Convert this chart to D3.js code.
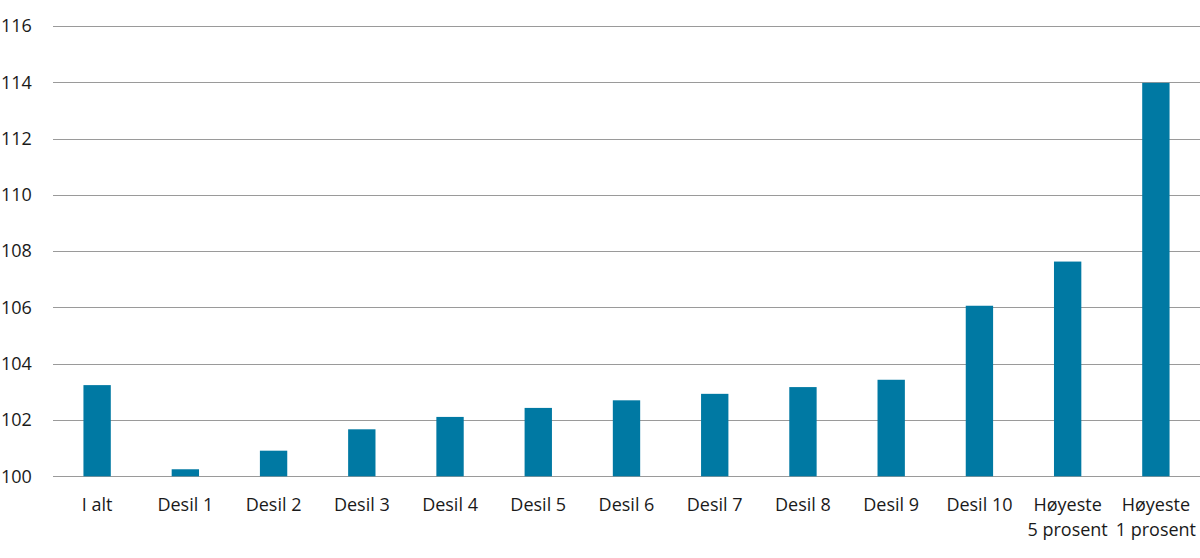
<!DOCTYPE html>
<html>
<head>
<meta charset="utf-8">
<script src="https://cdn.jsdelivr.net/npm/d3@7"></script>
<style>
  html, body { margin: 0; padding: 0; background: #fff; }
  svg text { font-family: "Open Sans", "Noto Sans", sans-serif; fill: #1a1a1a; }
</style>
</head>
<body>
<svg id="chart" width="1200" height="558"></svg>
<script>
const categories = [
  ["I alt"], ["Desil 1"], ["Desil 2"], ["Desil 3"], ["Desil 4"], ["Desil 5"],
  ["Desil 6"], ["Desil 7"], ["Desil 8"], ["Desil 9"], ["Desil 10"],
  ["Høyeste", "5 prosent"], ["Høyeste", "1 prosent"]
];
const values = [103.24, 100.25, 100.91, 101.67, 102.11, 102.43, 102.70, 102.93, 103.17, 103.43, 106.06, 107.63, 113.98];
const yTicks = [100, 102, 104, 106, 108, 110, 112, 114, 116];

(function () {
const svg = d3.select("#chart");
const mLeft = 53, mRight = 1200, mTop = 26, mBottom = 476.3;

const x = d3.scaleBand()
  .domain(categories.map((d, i) => i))
  .range([mLeft, mRight])
  .paddingInner(0.69)
  .paddingOuter(0.345);

const y = d3.scaleLinear().domain([100, 116]).range([mBottom, mTop]);

// gridlines
svg.append("g")
  .selectAll("line")
  .data(yTicks)
  .join("line")
  .attr("x1", mLeft).attr("x2", mRight)
  .attr("y1", d => Math.round(y(d)) + 0.5).attr("y2", d => Math.round(y(d)) + 0.5)
  .attr("stroke", "#9a9a9a").attr("stroke-width", 1.2);

// y labels
svg.append("g")
  .selectAll("text")
  .data(yTicks)
  .join("text")
  .attr("x", 1)
  .attr("y", d => y(d))
  .attr("dy", "0.35em")
  .attr("font-size", 18)
  .text(d => d);

// bars
svg.append("g")
  .selectAll("rect")
  .data(values)
  .join("rect")
  .attr("x", (d, i) => x(i))
  .attr("width", x.bandwidth())
  .attr("y", d => y(d))
  .attr("height", d => y(100) - y(d))
  .attr("fill", "#0079a3");

// x labels
const xl = svg.append("g")
  .selectAll("text")
  .data(categories)
  .join("text")
  .attr("text-anchor", "middle")
  .attr("font-size", 18)
  .attr("x", (d, i) => x(i) + x.bandwidth() / 2)
  .attr("y", 511);
xl.selectAll("tspan")
  .data(d => d)
  .join("tspan")
  .attr("x", function () { return d3.select(this.parentNode).attr("x"); })
  .attr("dy", (d, j) => j === 0 ? 0 : 25)
  .text(d => d);
})();
</script>
</body>
</html>
